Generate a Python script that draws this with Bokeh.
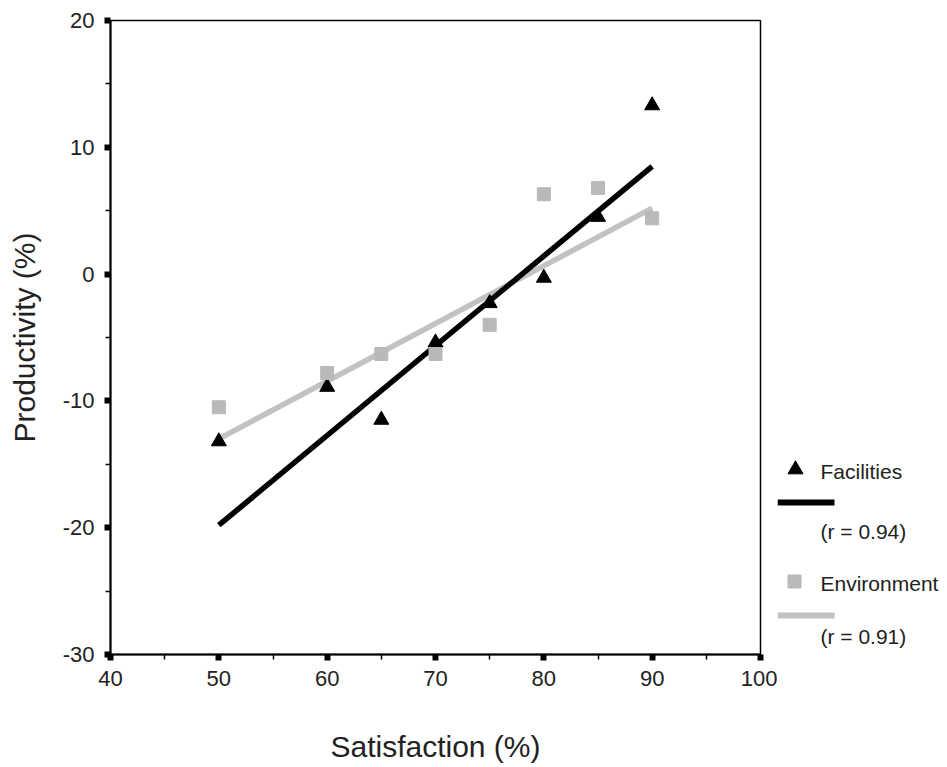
from bokeh.plotting import figure
from bokeh.models import Range1d, SingleIntervalTicker, PrintfTickFormatter
from bokeh.layouts import row
from bokeh.core.properties import value
from bokeh.embed import file_html
from bokeh.resources import INLINE

# ---- data ----
satisfaction = [50, 60, 65, 70, 75, 80, 85, 90]
facilities = [-13.2, -8.9, -11.5, -5.4, -2.3, -0.3, 4.5, 13.3]
environment = [-10.5, -7.8, -6.3, -6.3, -4.0, 6.3, 6.8, 4.4]
fit_x = [50, 90]
facilities_fit = [-19.8, 8.5]
environment_fit = [-13.0, 5.2]
legend_names = ["Facilities", "Environment"]
legend_r = ["(r = 0.94)", "(r = 0.91)"]

FONT = "Liberation Sans"
GRAY_M = "#b9b9b9"
GRAY_L = "#c2c2c2"

p = figure(width=777, height=767, x_range=Range1d(40, 100), y_range=Range1d(-30, 20),
           output_backend="svg", toolbar_location=None,
           min_border_left=110, min_border_right=17, min_border_top=20, min_border_bottom=113)
p.grid.visible = False
p.outline_line_color = "black"
p.outline_line_width = 1.5
p.background_fill_color = "white"
p.border_fill_color = "white"

p.xaxis.ticker = SingleIntervalTicker(interval=10, num_minor_ticks=2)
p.yaxis.ticker = SingleIntervalTicker(interval=10, num_minor_ticks=2)
for ax in (p.xaxis[0], p.yaxis[0]):
    ax.formatter = PrintfTickFormatter(format="%d")
    ax.axis_line_color = "black"
    ax.axis_line_width = 2
    ax.major_tick_in = 0
    ax.major_tick_out = 6
    ax.major_tick_line_width = 6
    ax.minor_tick_in = 0
    ax.minor_tick_out = 5
    ax.minor_tick_line_width = 1.5
    ax.major_label_text_font = FONT
    ax.major_label_text_font_size = "22px"
    ax.major_label_text_color = "#222222"
    ax.axis_label_text_font = FONT
    ax.axis_label_text_font_size = "30px"
    ax.axis_label_text_font_style = "normal"
    ax.axis_label_text_color = "#222222"

p.xaxis.axis_label = "Satisfaction (%)"
p.yaxis.axis_label = "Productivity (%)"
p.xaxis.major_label_standoff = 10
p.yaxis.major_label_standoff = 10
p.xaxis.axis_label_standoff = 41
p.yaxis.axis_label_standoff = 19

p.line(fit_x, environment_fit, line_color=GRAY_L, line_width=5.5)
p.line(fit_x, facilities_fit, line_color="black", line_width=5.5)
p.scatter(satisfaction, facilities, marker="triangle", size=15, fill_color="black", line_color="black")
p.scatter(satisfaction, environment, marker="square", size=13, fill_color=GRAY_M, line_color=GRAY_M)

# ---- legend panel (page pixel coordinates; frame aligned with main plot) ----
lf = figure(width=170, height=767, x_range=Range1d(777, 947), y_range=Range1d(654, 20),
            output_backend="svg", toolbar_location=None, min_border=0,
            x_axis_location=None, y_axis_location=None)
lf.grid.visible = False
lf.outline_line_color = None

lf.scatter([795], [469], marker="triangle", size=15, fill_color="black", line_color="black")
lf.line([777, 834], [502, 502], line_color="black", line_width=6)
lf.scatter([794], [581], marker="square", size=13, fill_color=GRAY_M, line_color=GRAY_M)
lf.line([777, 834], [615, 615], line_color=GRAY_L, line_width=6)
lf.text(x=[820, 820], y=[471, 583], text=legend_names, text_font=value(FONT),
        text_font_size="21px", text_baseline="middle", text_align="left", text_color="#222222")
lf.text(x=[820, 820], y=[531, 636], text=legend_r, text_font=value(FONT),
        text_font_size="21px", text_baseline="middle", text_align="left", text_color="#222222")

layout = row(p, lf)
open("out.html", "w").write(file_html(layout, INLINE))
